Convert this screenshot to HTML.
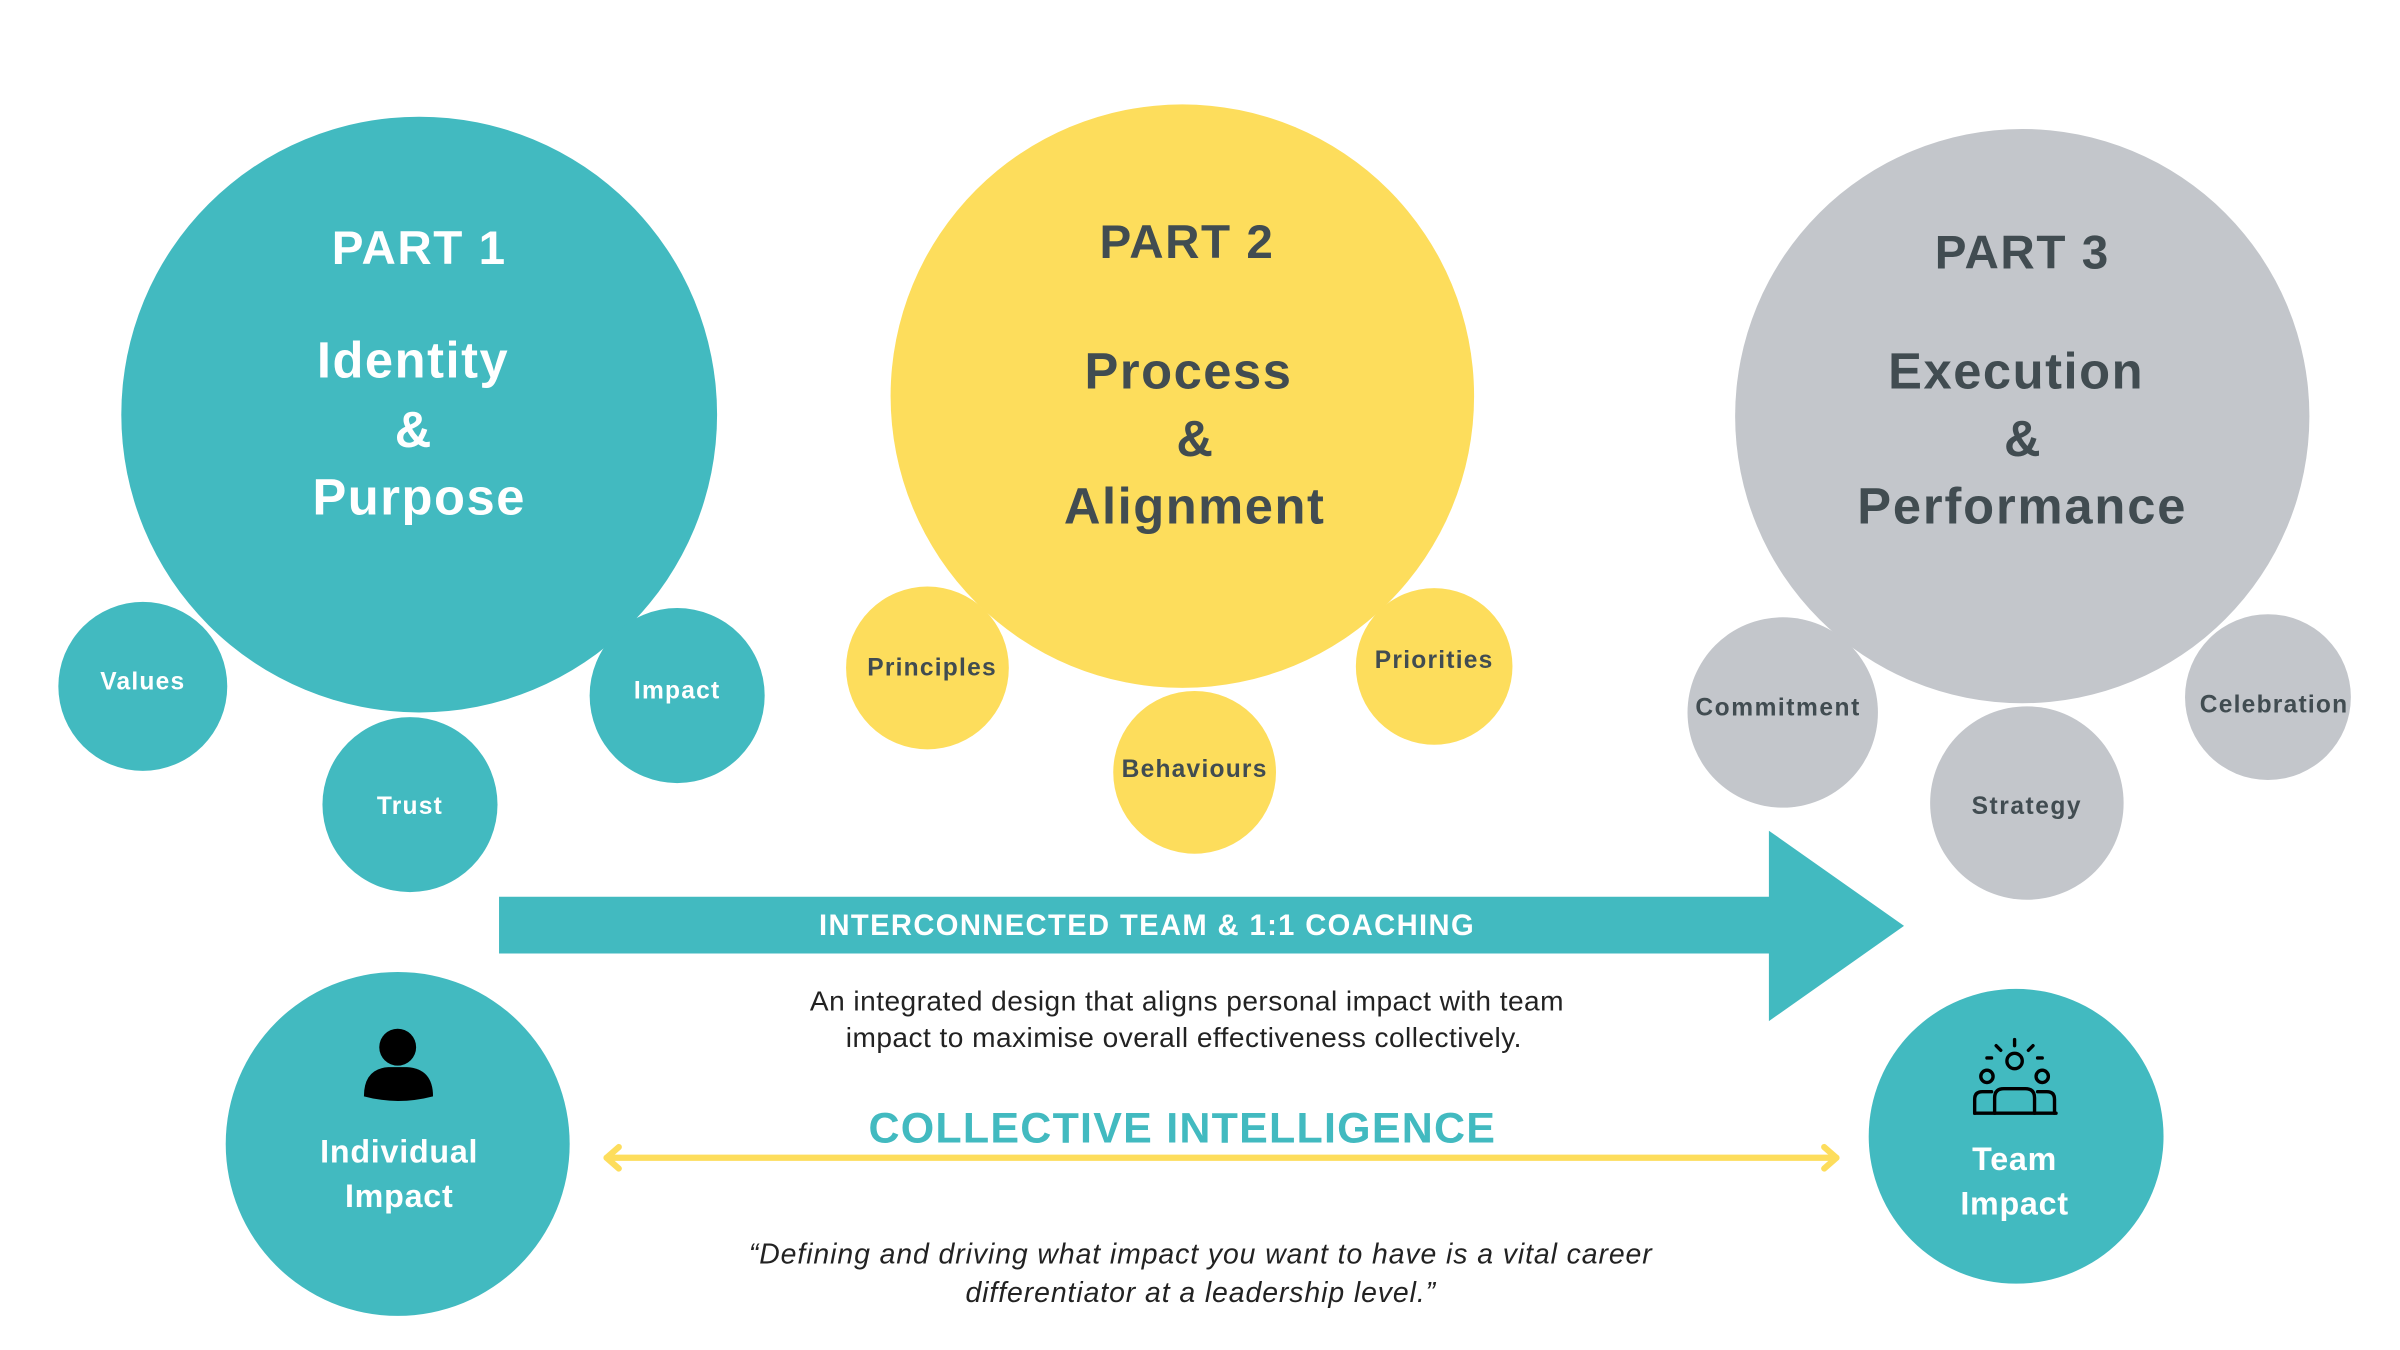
<!DOCTYPE html>
<html><head><meta charset="utf-8"><style>
html,body{margin:0;padding:0;background:#fff;}
svg{display:block;}
text{font-family:"Liberation Sans",sans-serif;font-weight:bold;}
</style></head><body>
<svg width="2400" height="1350" viewBox="0 0 1563 879.2" preserveAspectRatio="none" xmlns="http://www.w3.org/2000/svg">
<rect width="1563" height="880" fill="#fff"/>
<g transform="translate(-3,-2)">
<!-- Part 1 -->
<circle cx="276" cy="272" r="194" fill="#42BAC0"/>
<circle cx="96" cy="449" r="55" fill="#42BAC0"/>
<circle cx="270" cy="526" r="57" fill="#42BAC0"/>
<circle cx="444" cy="455" r="57" fill="#42BAC0"/>
<g fill="#fff" text-anchor="middle">
<text x="276" y="174" font-size="31" letter-spacing="1">PART 1</text>
<text x="272" y="248" font-size="33" letter-spacing="1">Identity</text>
<text x="272" y="293" font-size="33">&amp;</text>
<text x="276" y="337" font-size="33" letter-spacing="1">Purpose</text>
<text x="96" y="451" font-size="16" letter-spacing="0.8">Values</text>
<text x="270" y="532" font-size="16" letter-spacing="0.8">Trust</text>
<text x="444" y="457" font-size="16" letter-spacing="0.8">Impact</text>
</g>
<!-- Part 2 -->
<circle cx="773" cy="260" r="190" fill="#FDDD5C"/>
<circle cx="607" cy="437" r="53" fill="#FDDD5C"/>
<circle cx="781" cy="505" r="53" fill="#FDDD5C"/>
<circle cx="937" cy="436" r="51" fill="#FDDD5C"/>
<g fill="#414C51" text-anchor="middle">
<text x="776" y="170" font-size="31" letter-spacing="1">PART 2</text>
<text x="777" y="255" font-size="33" letter-spacing="1">Process</text>
<text x="781" y="299" font-size="33">&amp;</text>
<text x="781" y="343" font-size="33" letter-spacing="1">Alignment</text>
<text x="610" y="442" font-size="16" letter-spacing="0.8">Principles</text>
<text x="781" y="508" font-size="16" letter-spacing="0.8">Behaviours</text>
<text x="937" y="437" font-size="16" letter-spacing="0.8">Priorities</text>
</g>
<!-- Part 3 -->
<circle cx="1320" cy="273" r="187" fill="#C3C6CB"/>
<circle cx="1164" cy="466" r="62" fill="#C3C6CB"/>
<circle cx="1323" cy="525" r="63" fill="#C3C6CB"/>
<circle cx="1480" cy="456" r="54" fill="#C3C6CB"/>
<g fill="#414C51" text-anchor="middle">
<text x="1320" y="177" font-size="31" letter-spacing="1">PART 3</text>
<text x="1316" y="255" font-size="33" letter-spacing="1">Execution</text>
<text x="1320" y="299" font-size="33">&amp;</text>
<text x="1320" y="343" font-size="33" letter-spacing="1.2">Performance</text>
<text x="1161" y="468" font-size="16" letter-spacing="1">Commitment</text>
<text x="1323" y="532" font-size="16" letter-spacing="1">Strategy</text>
<text x="1484" y="466" font-size="16" letter-spacing="0.8">Celebration</text>
</g>
<!-- Arrow -->
<polygon points="328,586 1155,586 1155,543 1243,605 1155,667 1155,623 328,623" fill="#42BAC0"/>
<text x="750" y="611" font-size="19" fill="#fff" text-anchor="middle" letter-spacing="0.9">INTERCONNECTED TEAM &amp; 1:1 COACHING</text>
<g fill="#222" text-anchor="middle" font-size="18.3">
<text x="776" y="660" style="font-weight:normal" letter-spacing="0.3">An integrated design that aligns personal impact with team</text>
<text x="774" y="684" style="font-weight:normal" letter-spacing="0.3">impact to maximise overall effectiveness collectively.</text>
</g>
<!-- Individual -->
<circle cx="262" cy="747" r="112" fill="#42BAC0"/>
<circle cx="262" cy="684" r="12" fill="#000"/>
<path d="M240 716 Q240 698 256 697 L268 697 Q285 698 285 716 Q262 722 240 716Z" fill="#000"/>
<g fill="#fff" text-anchor="middle" font-size="21" letter-spacing="0.5">
<text x="263" y="759">Individual</text>
<text x="263" y="788">Impact</text>
</g>
<!-- Team -->
<circle cx="1316" cy="742" r="96" fill="#42BAC0"/>
<g stroke="#000" stroke-width="2.2" fill="none" stroke-linecap="round">
<circle cx="1315" cy="693" r="5"/>
<circle cx="1297" cy="703" r="4"/>
<circle cx="1333" cy="703" r="4"/>
<path d="M1302 727 V717 Q1302 711 1308 711 H1322 Q1328 711 1328 717 V727"/>
<path d="M1289 727 V718 Q1289 713 1294 713 H1300 M1341 727 V718 Q1341 713 1336 713 H1330"/>
<path d="M1289 727 H1342"/>
<path d="M1315 679 V683 M1303 683 L1306 686 M1327 683 L1324 686 M1297 691 H1300 M1330 691 H1333"/>
</g>
<g fill="#fff" text-anchor="middle" font-size="21" letter-spacing="0.5">
<text x="1315" y="764">Team</text>
<text x="1315" y="793">Impact</text>
</g>
<!-- Collective -->
<text x="773" y="746" font-size="28" fill="#42BAC0" text-anchor="middle" letter-spacing="0.8">COLLECTIVE INTELLIGENCE</text>
<g stroke="#FDDD5C" stroke-width="4" fill="none" stroke-linecap="round" stroke-linejoin="round">
<line x1="398" y1="756" x2="1199" y2="756"/>
<polyline points="406,749 398,756 406,763"/>
<polyline points="1191,749 1199,756 1191,763"/>
</g>
<g fill="#222" text-anchor="middle" font-size="18.5" font-style="italic">
<text x="785" y="825" style="font-weight:normal" letter-spacing="0.6">“Defining and driving what impact you want to have is a vital career</text>
<text x="785" y="850" style="font-weight:normal" letter-spacing="0.6">differentiator at a leadership level.”</text>
</g>
</g>
</svg>
</body></html>
